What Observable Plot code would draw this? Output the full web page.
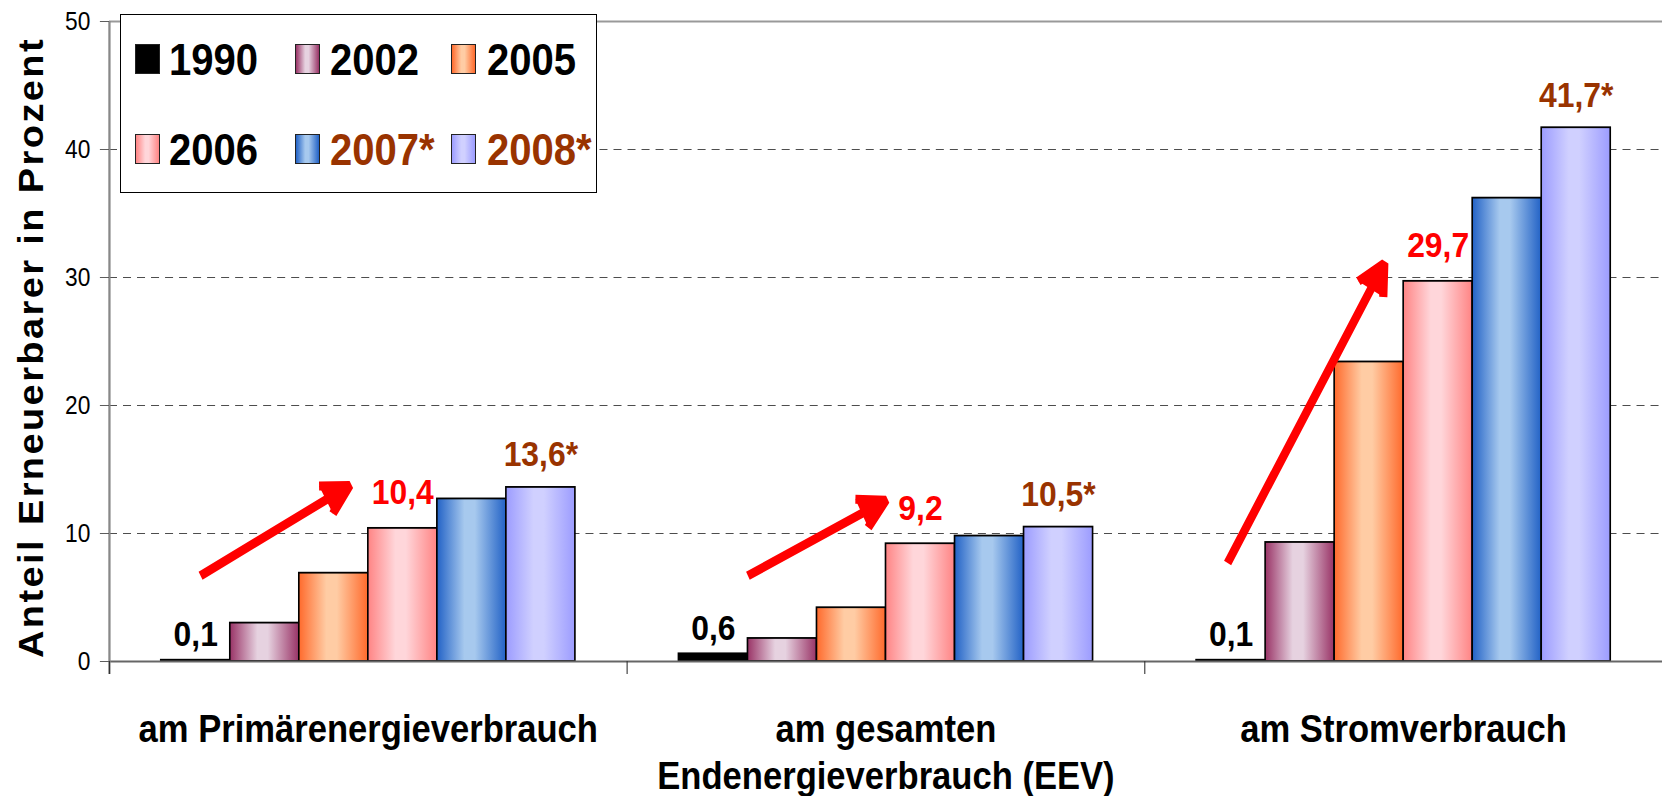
<!DOCTYPE html>
<html><head><meta charset="utf-8">
<script src="https://cdn.jsdelivr.net/npm/d3@7"></script>
<script src="https://cdn.jsdelivr.net/npm/@observablehq/plot@0.6"></script>
<style>
html,body{margin:0;padding:0;background:#fff;overflow:hidden;}
#wrap{position:relative;width:1662px;height:796px;font-family:"Liberation Sans",Arial,sans-serif;}
#legend{position:absolute;left:120px;top:14px;width:475px;height:177px;border:1.5px solid #000;background:#fff;}
.sw{position:absolute;width:23px;height:28px;border:1.5px solid #222;}
.lt{position:absolute;font-weight:bold;font-size:44px;line-height:44px;transform:scaleX(0.91);transform-origin:0 0;white-space:nowrap;}
</style></head>
<body><div id="wrap"></div>
<script>
// ---- data ----
const categories = ["am Primärenergieverbrauch", "am gesamten\nEndenergieverbrauch (EEV)", "am Stromverbrauch"];
const years = ["1990", "2002", "2005", "2006", "2007*", "2008*"];
const primaer = [0.1, 3.0, 6.9, 10.4, 12.7, 13.6];
const endenergie = [0.6, 1.8, 4.2, 9.2, 9.8, 10.5];
const strom = [0.1, 9.3, 23.4, 29.7, 36.2, 41.7];
const yTicks = [0, 10, 20, 30, 40, 50];
const yTitle = "Anteil Erneuerbarer in Prozent";
// trend arrows (values in percent, from/to bar slots within each group)
const arrowFromValue = [6.7, 6.7, 7.7];
const arrowToValue = [13.75, 12.6, 31.1];
const arrowFromSlot = [0.57, 1.0, 0.45];
const arrowToSlot = [2.73, 3.0, 2.72];
// styles
const yearDark = ["#000000", "#993366", "#FF6A2C", "#FF8484", "#2262C6", "#9C9CFF"];
const yearLight = ["#000000", "#E6D2E0", "#FFCCA4", "#FFD6DA", "#A7C9EE", "#D0D0FF"];
const legendTextColors = ["#000", "#000", "#000", "#000", "#993300", "#993300"];

// ---- layout ----
const K = 0.91; // horizontal condensing of the whole picture
const W = 1662, H = 796;
const Wi = W / K;
const groupPad = 0.1, slotW = 0.8 / years.length;

const series = [primaer, endenergie, strom];
const rows = [];
series.forEach((vals, i) => vals.forEach((v, k) => rows.push({
  cat: i, k, year: years[k], value: v,
  x1: i + groupPad + k * slotW, x2: i + groupPad + (k + 1) * slotW,
  xc: i + groupPad + (k + 0.5) * slotW,
  label: d3.format(".1f")(v).replace(".", ",") + (years[k].endsWith("*") ? "*" : "")
})));
const arrows = arrowFromValue.map((v, i) => ({
  x1: i + groupPad + arrowFromSlot[i] * slotW, y1: v,
  x2: i + groupPad + arrowToSlot[i] * slotW, y2: arrowToValue[i]
}));

// gradient defs
const ns = "http://www.w3.org/2000/svg";
const defsSvg = document.createElementNS(ns, "svg");
defsSvg.setAttribute("width", 0); defsSvg.setAttribute("height", 0);
defsSvg.style.position = "absolute";
const defs = document.createElementNS(ns, "defs");
years.forEach((y, k) => {
  const g = document.createElementNS(ns, "linearGradient");
  g.setAttribute("id", "grad" + k);
  g.setAttribute("x1", "0"); g.setAttribute("x2", "1"); g.setAttribute("y1", "0"); g.setAttribute("y2", "0");
  [[0, yearDark[k]], [0.4, yearLight[k]], [0.55, yearLight[k]], [1, yearDark[k]]].forEach(([o, c]) => {
    const s = document.createElementNS(ns, "stop");
    s.setAttribute("offset", o); s.setAttribute("stop-color", c);
    g.appendChild(s);
  });
  defs.appendChild(g);
});
defsSvg.appendChild(defs);
document.getElementById("wrap").appendChild(defsSvg);

const labelMark = (k, color, dy) => Plot.text(rows.filter(r => r.k === k), {
  x: "xc", y: "value", text: "label", fill: color, dy, lineAnchor: "bottom",
  fontSize: 35, fontWeight: "bold"
});

const plot = Plot.plot({
  width: Wi, height: H,
  marginLeft: 109 / K, marginRight: 0, marginTop: 21, marginBottom: 135,
  x: {domain: [0, 3]},
  y: {domain: [0, 50]},
  style: {fontFamily: '"Liberation Sans", Arial, sans-serif', color: "black", background: "white", overflow: "visible"},
  marks: [
    Plot.ruleY([10, 20, 30, 40], {stroke: "#444", strokeWidth: 1, strokeDasharray: "8.8,6.6"}),
    Plot.ruleY([50], {stroke: "#999", strokeWidth: 2}),
    ...years.map((y, k) => Plot.rect(rows.filter(r => r.k === k), {
      x1: "x1", x2: "x2", y1: 0, y2: "value", fill: `url(#grad${k})`, stroke: "#000", strokeWidth: 1.8
    })),
    Plot.ruleY([0], {stroke: "#666", strokeWidth: 2}),
    Plot.ruleX([0], {y1: 50, y2: 0, stroke: "#888", strokeWidth: 2.5, insetBottom: -13}),
    Plot.ruleX([0, 1, 2], {y1: 0, y2: 0, stroke: "#333", strokeWidth: 1.2, insetBottom: -13}),
    Plot.axisY({ticks: yTicks, tickSize: 10, tickPadding: 11, fontSize: 25, stroke: "#555", label: null}),
    Plot.axisX({ticks: [0.5, 1.5, 2.5], tickFormat: d => categories[Math.floor(d)], tickSize: 0, tickPadding: 48,
      fontSize: 38, fontWeight: "bold", lineHeight: 1.22, label: null}),
    labelMark(0, "#000", -14),
    labelMark(3, "#FF0000", -24),
    labelMark(5, "#993300", -21),
    Plot.arrow(arrows, {x1: "x1", y1: "y1", x2: "x2", y2: "y2", stroke: "#FF0000", fill: "#FF0000", strokeWidth: 9,
      headLength: 5.6, headAngle: 56, strokeLinecap: "butt", strokeLinejoin: "miter"}),
    Plot.text([yTitle], {text: d => d, frameAnchor: "left", textAnchor: "middle", rotate: -90, lineAnchor: "bottom",
      dx: 43 / K - 109 / K, dy: 6, fontSize: 38, fontWeight: "bold"})
  ]
});
plot.setAttribute("preserveAspectRatio", "none");
plot.style.width = W + "px";
plot.style.height = H + "px";
plot.style.maxWidth = "none";
// spaced-out y-axis title
d3.select(plot).selectAll("text").filter(function () { return this.textContent === yTitle; })
  .style("letter-spacing", "2.4px");
document.getElementById("wrap").appendChild(plot);

// legend
const legend = document.createElement("div");
legend.id = "legend";
const swX = [14, 174, 330], swY = [29, 119];
const txX = [48, 209, 366], txY = [23, 113];
years.forEach((y, k) => {
  const r = Math.floor(k / 3), c = k % 3;
  const sw = document.createElement("div");
  sw.className = "sw";
  sw.style.left = swX[c] + "px"; sw.style.top = swY[r] + "px";
  sw.style.background = k === 0 ? "#000" :
    `linear-gradient(to right, ${yearDark[k]} 0%, ${yearLight[k]} 40%, ${yearLight[k]} 55%, ${yearDark[k]} 100%)`;
  legend.appendChild(sw);
  const t = document.createElement("div");
  t.className = "lt";
  t.style.left = txX[c] + "px"; t.style.top = txY[r] + "px";
  t.style.color = legendTextColors[k];
  t.textContent = y;
  legend.appendChild(t);
});
document.getElementById("wrap").appendChild(legend);
</script>
</body></html>
